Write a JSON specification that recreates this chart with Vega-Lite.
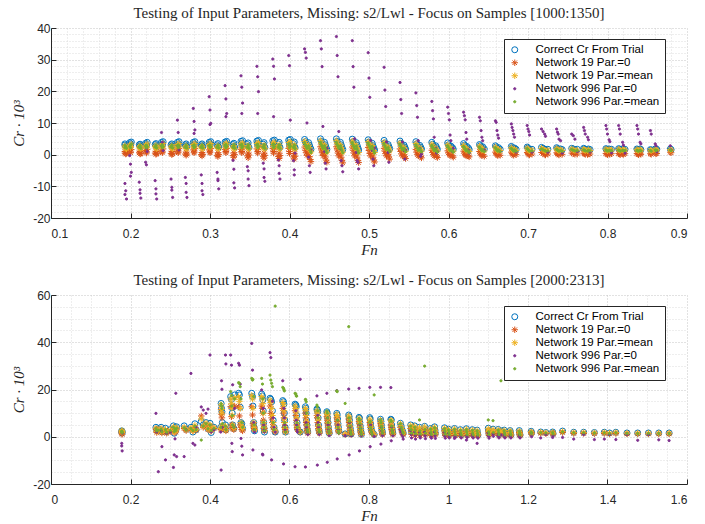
{
  "$schema": "https://vega.github.io/schema/vega-lite/v6.json",
  "background": "white",
  "padding": {"left": 11, "top": 6, "right": 5, "bottom": 5},
  "config": {
    "view": {"stroke": null},
    "axis": {"labelFont": "Liberation Sans", "labelFontSize": 12, "labelColor": "#262626", "domainColor": "#262626", "tickColor": "#262626", "titleFont": "Liberation Serif", "titleFontStyle": "italic", "titleFontWeight": "normal", "titleFontSize": 15, "titleColor": "#262626", "grid": true, "gridDash": [1, 2], "gridWidth": 1},
    "title": {"font": "Liberation Serif", "fontSize": 15, "fontWeight": "normal", "color": "#262626", "offset": 1},
    "legend": {"title": null, "orient": "none", "legendX": 453, "legendY": 11, "strokeColor": "#262626", "fillColor": "#ffffff", "padding": 5, "rowPadding": 0, "labelFont": "Liberation Sans", "labelFontSize": 11.5, "labelColor": "#000000", "labelOffset": 15, "symbolStrokeWidth": 1}
  },
  "spacing": 16,
  "resolve": {"scale": {"stroke": "independent", "fill": "independent", "shape": "independent", "size": "independent"}},
  "vconcat": [
    {
      "title": "Testing of Input Parameters, Missing: s2/Lwl - Focus on Samples [1000:1350]",
      "width": 636, "height": 190,
      "data": {"values": [
{"x":0.193,"a":3.0,"b":0.5,"c":2.4,"d":-9.1,"e":2.2},
{"x":0.194,"a":2.6,"b":0.2,"c":2.0,"d":-11.4,"e":2.6},
{"x":0.193,"a":3.4,"b":1.0,"c":2.8,"d":-12.6,"e":2.9},
{"x":0.195,"a":2.3,"b":0.4,"c":1.8,"d":-14.0,"e":2.0},
{"x":0.199,"a":3.8,"b":1.3,"c":3.0,"d":-0.3,"e":2.6},
{"x":0.200,"a":3.4,"b":0.8,"c":2.6,"d":-3.0,"e":3.0},
{"x":0.201,"a":4.0,"b":1.6,"c":3.3,"d":-5.6,"e":3.3},
{"x":0.200,"a":3.0,"b":0.6,"c":2.3,"d":-6.8,"e":2.2},
{"x":0.211,"a":3.1,"b":0.6,"c":2.4,"d":-8.7,"e":2.3},
{"x":0.212,"a":2.7,"b":0.2,"c":2.0,"d":-11.1,"e":2.6},
{"x":0.212,"a":3.3,"b":1.0,"c":2.8,"d":-12.2,"e":2.9},
{"x":0.213,"a":2.5,"b":0.3,"c":1.9,"d":-13.7,"e":2.0},
{"x":0.219,"a":3.6,"b":1.3,"c":3.0,"d":-2.4,"e":2.7},
{"x":0.220,"a":3.2,"b":0.8,"c":2.6,"d":-3.2,"e":3.0},
{"x":0.221,"a":3.9,"b":1.7,"c":3.4,"d":1.0,"e":2.5},
{"x":0.220,"a":2.9,"b":0.5,"c":2.3,"d":2.0,"e":2.2},
{"x":0.231,"a":3.2,"b":0.5,"c":2.5,"d":-8.2,"e":2.4},
{"x":0.232,"a":2.8,"b":0.1,"c":2.1,"d":-10.8,"e":2.7},
{"x":0.232,"a":3.5,"b":1.0,"c":2.9,"d":-12.4,"e":3.0},
{"x":0.233,"a":2.5,"b":0.3,"c":1.9,"d":-14.0,"e":2.1},
{"x":0.239,"a":3.9,"b":1.4,"c":3.1,"d":7.0,"e":2.8},
{"x":0.240,"a":3.4,"b":0.9,"c":2.7,"d":3.9,"e":3.1},
{"x":0.241,"a":4.1,"b":1.8,"c":3.5,"d":1.3,"e":2.5},
{"x":0.240,"a":3.0,"b":0.6,"c":2.3,"d":2.5,"e":2.2},
{"x":0.251,"a":3.1,"b":0.4,"c":2.5,"d":-7.7,"e":2.4},
{"x":0.252,"a":2.7,"b":0.0,"c":2.1,"d":-10.3,"e":2.7},
{"x":0.252,"a":3.4,"b":1.0,"c":2.8,"d":-11.2,"e":3.0},
{"x":0.253,"a":2.5,"b":0.3,"c":1.9,"d":-13.5,"e":2.1},
{"x":0.259,"a":3.9,"b":1.5,"c":3.2,"d":10.9,"e":2.8},
{"x":0.260,"a":3.4,"b":0.9,"c":2.7,"d":7.0,"e":3.1},
{"x":0.261,"a":4.1,"b":1.9,"c":3.5,"d":1.5,"e":2.5},
{"x":0.260,"a":3.0,"b":0.6,"c":2.3,"d":2.8,"e":2.2},
{"x":0.269,"a":3.1,"b":0.2,"c":2.4,"d":-7.2,"e":2.3},
{"x":0.270,"a":2.7,"b":-0.2,"c":2.0,"d":-9.1,"e":2.7},
{"x":0.270,"a":3.4,"b":0.8,"c":2.8,"d":-11.9,"e":3.0},
{"x":0.271,"a":2.5,"b":0.2,"c":1.9,"d":-13.5,"e":2.1},
{"x":0.279,"a":3.9,"b":1.5,"c":3.2,"d":14.6,"e":2.8},
{"x":0.280,"a":3.4,"b":0.9,"c":2.7,"d":10.5,"e":3.1},
{"x":0.281,"a":4.1,"b":1.9,"c":3.5,"d":7.8,"e":2.5},
{"x":0.280,"a":3.0,"b":0.6,"c":2.3,"d":6.7,"e":2.2},
{"x":0.289,"a":3.1,"b":0.0,"c":2.4,"d":-6.4,"e":2.3},
{"x":0.290,"a":2.7,"b":-0.4,"c":2.0,"d":-9.1,"e":2.7},
{"x":0.290,"a":3.4,"b":0.7,"c":2.8,"d":-11.4,"e":3.0},
{"x":0.291,"a":2.5,"b":0.1,"c":1.9,"d":-12.6,"e":2.1},
{"x":0.299,"a":3.9,"b":1.5,"c":3.2,"d":18.3,"e":2.8},
{"x":0.300,"a":3.4,"b":0.9,"c":2.7,"d":14.1,"e":3.1},
{"x":0.301,"a":4.1,"b":1.9,"c":3.5,"d":9.9,"e":2.5},
{"x":0.300,"a":3.0,"b":0.6,"c":2.3,"d":9.5,"e":2.2},
{"x":0.309,"a":3.1,"b":-0.2,"c":2.4,"d":-5.6,"e":2.3},
{"x":0.310,"a":2.6,"b":-0.6,"c":2.0,"d":-7.7,"e":2.7},
{"x":0.310,"a":3.5,"b":0.6,"c":2.8,"d":-8.2,"e":3.0},
{"x":0.311,"a":2.4,"b":0.0,"c":1.9,"d":-10.8,"e":2.1},
{"x":0.319,"a":4.0,"b":1.6,"c":3.3,"d":21.8,"e":2.9},
{"x":0.320,"a":3.5,"b":1.0,"c":2.8,"d":17.6,"e":3.2},
{"x":0.321,"a":4.2,"b":2.0,"c":3.6,"d":13.0,"e":2.6},
{"x":0.320,"a":3.0,"b":0.6,"c":2.3,"d":12.0,"e":2.2},
{"x":0.329,"a":3.2,"b":-0.3,"c":2.4,"d":-1.8,"e":2.3},
{"x":0.330,"a":2.6,"b":-0.8,"c":2.0,"d":-4.6,"e":2.7},
{"x":0.330,"a":3.6,"b":0.6,"c":2.9,"d":-8.9,"e":3.1},
{"x":0.331,"a":2.4,"b":0.0,"c":1.8,"d":-10.5,"e":2.0},
{"x":0.339,"a":4.2,"b":1.7,"c":3.4,"d":24.9,"e":3.0},
{"x":0.340,"a":3.6,"b":1.0,"c":2.8,"d":21.3,"e":3.3},
{"x":0.341,"a":4.4,"b":2.1,"c":3.7,"d":16.3,"e":2.6},
{"x":0.340,"a":3.0,"b":0.6,"c":2.3,"d":13.0,"e":2.2},
{"x":0.347,"a":3.2,"b":-0.4,"c":2.4,"d":-3.8,"e":2.3},
{"x":0.348,"a":2.6,"b":-1.0,"c":2.0,"d":-5.1,"e":2.7},
{"x":0.348,"a":3.7,"b":0.5,"c":2.9,"d":-7.7,"e":3.1},
{"x":0.349,"a":2.3,"b":-0.1,"c":1.8,"d":-9.8,"e":2.0},
{"x":0.359,"a":4.3,"b":1.8,"c":3.5,"d":27.9,"e":3.0},
{"x":0.360,"a":3.6,"b":1.0,"c":2.8,"d":24.6,"e":3.3},
{"x":0.361,"a":4.5,"b":2.2,"c":3.8,"d":19.9,"e":2.6},
{"x":0.360,"a":3.0,"b":0.5,"c":2.3,"d":13.0,"e":2.2},
{"x":0.367,"a":3.3,"b":-0.5,"c":2.4,"d":-2.7,"e":2.3},
{"x":0.368,"a":2.6,"b":-1.1,"c":2.0,"d":-4.5,"e":2.7},
{"x":0.368,"a":3.8,"b":0.5,"c":3.0,"d":-7.2,"e":3.1},
{"x":0.369,"a":2.3,"b":-0.2,"c":1.8,"d":-8.4,"e":2.0},
{"x":0.379,"a":4.4,"b":1.9,"c":3.6,"d":30.2,"e":3.1},
{"x":0.380,"a":3.7,"b":1.0,"c":2.9,"d":27.9,"e":3.4},
{"x":0.381,"a":4.6,"b":2.3,"c":3.9,"d":23.9,"e":2.6},
{"x":0.380,"a":3.0,"b":0.5,"c":2.3,"d":12.0,"e":2.2},
{"x":0.386,"a":3.4,"b":-0.6,"c":2.5,"d":-1.7,"e":2.3},
{"x":0.387,"a":2.6,"b":-1.2,"c":2.0,"d":-3.5,"e":2.7},
{"x":0.387,"a":3.9,"b":0.5,"c":3.1,"d":-5.9,"e":3.1},
{"x":0.388,"a":2.3,"b":-0.3,"c":1.8,"d":-7.7,"e":2.0},
{"x":0.399,"a":4.6,"b":2.0,"c":3.8,"d":31.3,"e":3.2},
{"x":0.400,"a":3.8,"b":1.0,"c":3.0,"d":28.1,"e":3.5},
{"x":0.401,"a":4.8,"b":2.4,"c":4.1,"d":10.9,"e":2.7},
{"x":0.400,"a":3.0,"b":0.4,"c":2.3,"d":3.0,"e":2.2},
{"x":0.405,"a":3.5,"b":-0.7,"c":2.5,"d":-1.9,"e":2.3},
{"x":0.406,"a":2.6,"b":-1.4,"c":1.9,"d":-4.8,"e":2.6},
{"x":0.406,"a":4.0,"b":0.4,"c":3.1,"d":-6.4,"e":3.0},
{"x":0.407,"a":2.2,"b":-0.5,"c":1.7,"d":0.5,"e":1.9},
{"x":0.419,"a":4.8,"b":2.4,"c":4.2,"d":33.4,"e":3.8},
{"x":0.420,"a":4.1,"b":1.4,"c":3.5,"d":32.3,"e":3.1},
{"x":0.421,"a":3.4,"b":0.6,"c":2.8,"d":30.5,"e":2.5},
{"x":0.422,"a":2.8,"b":-0.2,"c":2.2,"d":10.0,"e":2.0},
{"x":0.424,"a":3.8,"b":0.4,"c":3.0,"d":-0.8,"e":2.8},
{"x":0.425,"a":3.0,"b":-0.6,"c":2.2,"d":-3.5,"e":2.0},
{"x":0.426,"a":2.3,"b":-1.5,"c":1.5,"d":-5.6,"e":1.3},
{"x":0.427,"a":1.7,"b":-2.2,"c":0.9,"d":1.5,"e":0.7},
{"x":0.439,"a":5.0,"b":2.5,"c":4.4,"d":36.0,"e":3.9},
{"x":0.440,"a":4.2,"b":1.5,"c":3.6,"d":33.4,"e":3.2},
{"x":0.441,"a":3.5,"b":0.6,"c":2.9,"d":27.8,"e":2.6},
{"x":0.442,"a":2.8,"b":-0.3,"c":2.2,"d":8.9,"e":2.0},
{"x":0.444,"a":3.9,"b":0.3,"c":3.1,"d":1.0,"e":2.8},
{"x":0.445,"a":3.1,"b":-0.7,"c":2.3,"d":-2.7,"e":2.0},
{"x":0.446,"a":2.3,"b":-1.7,"c":1.5,"d":-4.5,"e":1.3},
{"x":0.447,"a":1.6,"b":-2.4,"c":0.8,"d":2.0,"e":0.6},
{"x":0.459,"a":5.0,"b":2.5,"c":4.4,"d":37.3,"e":3.9},
{"x":0.460,"a":4.2,"b":1.5,"c":3.6,"d":31.3,"e":3.2},
{"x":0.461,"a":3.5,"b":0.5,"c":2.9,"d":24.6,"e":2.6},
{"x":0.462,"a":2.8,"b":-0.4,"c":2.2,"d":7.3,"e":2.0},
{"x":0.464,"a":3.9,"b":0.2,"c":3.1,"d":1.8,"e":2.8},
{"x":0.465,"a":3.1,"b":-0.8,"c":2.3,"d":-1.9,"e":2.0},
{"x":0.466,"a":2.3,"b":-1.8,"c":1.5,"d":-3.5,"e":1.3},
{"x":0.467,"a":1.6,"b":-2.6,"c":0.8,"d":-5.4,"e":0.6},
{"x":0.479,"a":4.9,"b":2.4,"c":4.3,"d":36.0,"e":3.8},
{"x":0.480,"a":4.1,"b":1.4,"c":3.5,"d":27.8,"e":3.1},
{"x":0.481,"a":3.4,"b":0.5,"c":2.8,"d":21.3,"e":2.5},
{"x":0.482,"a":2.7,"b":-0.4,"c":2.1,"d":5.0,"e":1.9},
{"x":0.484,"a":3.8,"b":0.2,"c":3.0,"d":0.7,"e":2.7},
{"x":0.485,"a":3.0,"b":-0.8,"c":2.2,"d":-1.9,"e":1.9},
{"x":0.486,"a":2.2,"b":-1.8,"c":1.4,"d":-2.4,"e":1.2},
{"x":0.487,"a":1.5,"b":-2.5,"c":0.7,"d":-4.5,"e":0.5},
{"x":0.499,"a":4.7,"b":2.3,"c":4.1,"d":32.2,"e":3.7},
{"x":0.500,"a":4.0,"b":1.3,"c":3.4,"d":24.2,"e":3.0},
{"x":0.501,"a":3.3,"b":0.4,"c":2.7,"d":18.1,"e":2.4},
{"x":0.502,"a":2.6,"b":-0.4,"c":2.0,"d":4.5,"e":1.8},
{"x":0.504,"a":3.6,"b":0.2,"c":2.9,"d":1.3,"e":2.6},
{"x":0.505,"a":2.8,"b":-0.8,"c":2.1,"d":-1.4,"e":1.8},
{"x":0.506,"a":2.1,"b":-1.7,"c":1.3,"d":-3.5,"e":1.1},
{"x":0.507,"a":1.5,"b":-2.3,"c":0.7,"d":2.0,"e":0.5},
{"x":0.519,"a":4.5,"b":2.0,"c":3.9,"d":27.6,"e":3.5},
{"x":0.520,"a":3.7,"b":1.1,"c":3.1,"d":20.4,"e":2.8},
{"x":0.521,"a":3.0,"b":0.3,"c":2.4,"d":15.2,"e":2.2},
{"x":0.522,"a":2.4,"b":-0.4,"c":1.8,"d":4.0,"e":1.6},
{"x":0.524,"a":3.2,"b":0.1,"c":2.5,"d":0.7,"e":2.2},
{"x":0.525,"a":2.5,"b":-0.7,"c":1.8,"d":-2.4,"e":1.5},
{"x":0.526,"a":1.9,"b":-1.4,"c":1.2,"d":1.0,"e":1.0},
{"x":0.539,"a":4.3,"b":1.8,"c":3.7,"d":22.8,"e":3.3},
{"x":0.540,"a":3.6,"b":1.0,"c":3.0,"d":17.4,"e":2.7},
{"x":0.541,"a":2.9,"b":0.2,"c":2.3,"d":13.0,"e":2.1},
{"x":0.542,"a":2.3,"b":-0.4,"c":1.7,"d":4.0,"e":1.5},
{"x":0.544,"a":3.0,"b":0.0,"c":2.3,"d":1.3,"e":2.0},
{"x":0.545,"a":2.4,"b":-0.7,"c":1.7,"d":-1.4,"e":1.4},
{"x":0.546,"a":1.8,"b":-1.2,"c":1.1,"d":1.5,"e":0.9},
{"x":0.559,"a":4.1,"b":1.6,"c":3.5,"d":19.5,"e":3.1},
{"x":0.560,"a":3.4,"b":0.8,"c":2.8,"d":15.5,"e":2.5},
{"x":0.561,"a":2.8,"b":0.1,"c":2.2,"d":11.8,"e":2.0},
{"x":0.562,"a":2.2,"b":-0.4,"c":1.6,"d":4.4,"e":1.4},
{"x":0.564,"a":2.9,"b":0.0,"c":2.2,"d":2.0,"e":1.9},
{"x":0.565,"a":2.3,"b":-0.6,"c":1.6,"d":-0.5,"e":1.3},
{"x":0.566,"a":1.8,"b":-1.0,"c":1.1,"d":0.2,"e":0.9},
{"x":0.579,"a":3.9,"b":1.4,"c":3.3,"d":16.8,"e":2.9},
{"x":0.580,"a":3.3,"b":0.7,"c":2.7,"d":13.9,"e":2.4},
{"x":0.581,"a":2.7,"b":0.1,"c":2.1,"d":11.3,"e":1.9},
{"x":0.582,"a":2.1,"b":-0.4,"c":1.5,"d":5.5,"e":1.3},
{"x":0.584,"a":2.8,"b":0.0,"c":2.1,"d":2.0,"e":1.8},
{"x":0.585,"a":2.2,"b":-0.5,"c":1.5,"d":0.5,"e":1.2},
{"x":0.586,"a":1.7,"b":-0.9,"c":1.1,"d":1.0,"e":0.8},
{"x":0.599,"a":3.7,"b":1.2,"c":3.1,"d":15.0,"e":2.8},
{"x":0.600,"a":3.1,"b":0.6,"c":2.5,"d":13.0,"e":2.3},
{"x":0.601,"a":2.6,"b":0.1,"c":2.0,"d":11.0,"e":1.8},
{"x":0.602,"a":2.1,"b":-0.3,"c":1.5,"d":6.2,"e":1.3},
{"x":0.603,"a":2.7,"b":0.0,"c":2.0,"d":4.4,"e":1.7},
{"x":0.605,"a":2.2,"b":-0.4,"c":1.5,"d":1.0,"e":1.2},
{"x":0.606,"a":1.7,"b":-0.8,"c":1.1,"d":2.0,"e":0.8},
{"x":0.619,"a":3.5,"b":1.1,"c":2.9,"d":13.4,"e":2.6},
{"x":0.620,"a":3.0,"b":0.5,"c":2.4,"d":12.3,"e":2.2},
{"x":0.621,"a":2.5,"b":0.0,"c":1.9,"d":11.0,"e":1.7},
{"x":0.622,"a":2.0,"b":-0.3,"c":1.4,"d":7.0,"e":1.2},
{"x":0.623,"a":2.6,"b":0.0,"c":1.9,"d":4.9,"e":1.6},
{"x":0.625,"a":2.1,"b":-0.4,"c":1.4,"d":1.5,"e":1.1},
{"x":0.626,"a":1.6,"b":-0.7,"c":1.0,"d":0.5,"e":0.7},
{"x":0.639,"a":3.2,"b":1.0,"c":2.7,"d":11.8,"e":2.4},
{"x":0.640,"a":2.8,"b":0.5,"c":2.2,"d":10.7,"e":2.0},
{"x":0.641,"a":2.4,"b":0.0,"c":1.8,"d":7.6,"e":1.6},
{"x":0.642,"a":1.9,"b":-0.3,"c":1.4,"d":5.5,"e":1.2},
{"x":0.643,"a":2.5,"b":0.1,"c":1.9,"d":4.4,"e":1.6},
{"x":0.645,"a":1.8,"b":-0.5,"c":1.2,"d":1.5,"e":1.0},
{"x":0.659,"a":2.8,"b":0.8,"c":2.4,"d":10.7,"e":2.2},
{"x":0.660,"a":2.4,"b":0.4,"c":2.0,"d":10.2,"e":1.8},
{"x":0.661,"a":2.0,"b":0.0,"c":1.6,"d":7.6,"e":1.4},
{"x":0.662,"a":1.6,"b":-0.3,"c":1.2,"d":6.2,"e":1.1},
{"x":0.663,"a":2.2,"b":0.2,"c":1.7,"d":5.2,"e":1.5},
{"x":0.665,"a":1.7,"b":-0.2,"c":1.3,"d":1.0,"e":1.0},
{"x":0.679,"a":2.6,"b":0.8,"c":2.2,"d":9.7,"e":2.0},
{"x":0.680,"a":2.2,"b":0.4,"c":1.8,"d":8.6,"e":1.7},
{"x":0.681,"a":1.9,"b":0.1,"c":1.5,"d":7.6,"e":1.4},
{"x":0.682,"a":1.6,"b":-0.2,"c":1.2,"d":6.5,"e":1.1},
{"x":0.683,"a":2.1,"b":0.3,"c":1.7,"d":5.5,"e":1.5},
{"x":0.685,"a":1.7,"b":0.0,"c":1.3,"d":0.8,"e":1.1},
{"x":0.699,"a":2.4,"b":0.7,"c":2.1,"d":9.2,"e":1.9},
{"x":0.700,"a":2.1,"b":0.4,"c":1.7,"d":8.1,"e":1.6},
{"x":0.701,"a":1.8,"b":0.1,"c":1.4,"d":7.3,"e":1.3},
{"x":0.702,"a":1.5,"b":-0.1,"c":1.2,"d":6.2,"e":1.1},
{"x":0.705,"a":1.7,"b":0.2,"c":1.4,"d":0.8,"e":1.2},
{"x":0.717,"a":2.3,"b":0.7,"c":2.0,"d":8.1,"e":1.8},
{"x":0.719,"a":2.0,"b":0.4,"c":1.7,"d":7.3,"e":1.5},
{"x":0.721,"a":1.7,"b":0.1,"c":1.4,"d":6.5,"e":1.3},
{"x":0.722,"a":1.5,"b":-0.1,"c":1.2,"d":5.8,"e":1.1},
{"x":0.725,"a":1.7,"b":0.2,"c":1.4,"d":0.8,"e":1.2},
{"x":0.736,"a":2.2,"b":0.6,"c":1.9,"d":8.1,"e":1.7},
{"x":0.737,"a":1.9,"b":0.3,"c":1.6,"d":7.1,"e":1.5},
{"x":0.738,"a":1.7,"b":0.1,"c":1.4,"d":6.5,"e":1.3},
{"x":0.739,"a":1.5,"b":-0.1,"c":1.2,"d":4.9,"e":1.1},
{"x":0.741,"a":1.8,"b":0.3,"c":1.5,"d":4.4,"e":1.3},
{"x":0.743,"a":1.6,"b":0.1,"c":1.3,"d":0.5,"e":1.1},
{"x":0.755,"a":2.0,"b":0.5,"c":1.8,"d":6.5,"e":1.6},
{"x":0.757,"a":1.8,"b":0.3,"c":1.5,"d":6.0,"e":1.4},
{"x":0.759,"a":1.6,"b":0.1,"c":1.3,"d":4.9,"e":1.2},
{"x":0.762,"a":1.7,"b":0.2,"c":1.4,"d":1.0,"e":1.3},
{"x":0.770,"a":2.0,"b":0.5,"c":1.7,"d":8.6,"e":1.5},
{"x":0.771,"a":1.8,"b":0.3,"c":1.5,"d":7.6,"e":1.4},
{"x":0.772,"a":1.6,"b":0.1,"c":1.3,"d":6.5,"e":1.2},
{"x":0.775,"a":1.5,"b":0.0,"c":1.2,"d":5.5,"e":1.1},
{"x":0.776,"a":1.8,"b":0.3,"c":1.5,"d":4.7,"e":1.4},
{"x":0.778,"a":1.6,"b":0.2,"c":1.3,"d":0.8,"e":1.2},
{"x":0.798,"a":1.9,"b":0.4,"c":1.7,"d":9.2,"e":1.5},
{"x":0.799,"a":1.7,"b":0.2,"c":1.5,"d":8.1,"e":1.3},
{"x":0.800,"a":1.5,"b":0.0,"c":1.3,"d":6.5,"e":1.1},
{"x":0.802,"a":1.8,"b":0.3,"c":1.6,"d":4.7,"e":1.4},
{"x":0.803,"a":1.6,"b":0.1,"c":1.4,"d":4.1,"e":1.2},
{"x":0.805,"a":1.7,"b":0.3,"c":1.5,"d":0.6,"e":1.3},
{"x":0.814,"a":1.9,"b":0.4,"c":1.7,"d":9.2,"e":1.5},
{"x":0.815,"a":1.7,"b":0.2,"c":1.5,"d":8.1,"e":1.3},
{"x":0.816,"a":1.5,"b":0.0,"c":1.3,"d":6.5,"e":1.1},
{"x":0.819,"a":1.8,"b":0.3,"c":1.6,"d":3.9,"e":1.4},
{"x":0.820,"a":1.6,"b":0.1,"c":1.4,"d":3.0,"e":1.2},
{"x":0.822,"a":1.7,"b":0.3,"c":1.5,"d":0.5,"e":1.3},
{"x":0.837,"a":1.8,"b":0.4,"c":1.6,"d":9.2,"e":1.4},
{"x":0.838,"a":1.6,"b":0.2,"c":1.4,"d":8.1,"e":1.2},
{"x":0.839,"a":1.5,"b":0.0,"c":1.3,"d":6.5,"e":1.1},
{"x":0.841,"a":1.8,"b":0.3,"c":1.6,"d":3.9,"e":1.4},
{"x":0.842,"a":1.6,"b":0.1,"c":1.4,"d":3.4,"e":1.2},
{"x":0.854,"a":1.6,"b":0.3,"c":1.4,"d":7.6,"e":1.3},
{"x":0.855,"a":1.4,"b":0.1,"c":1.2,"d":6.5,"e":1.1},
{"x":0.860,"a":1.8,"b":0.5,"c":1.6,"d":3.4,"e":1.5},
{"x":0.861,"a":1.6,"b":0.3,"c":1.4,"d":2.8,"e":1.3},
{"x":0.862,"a":1.7,"b":0.4,"c":1.5,"d":0.9,"e":1.4},
{"x":0.879,"a":1.8,"b":0.8,"c":1.6,"d":2.8,"e":1.5},
{"x":0.880,"a":1.6,"b":0.6,"c":1.4,"d":1.5,"e":1.3}
      ]},
      "transform": [{"fold": ["a", "b", "c", "d", "e"], "as": ["s", "Cr"]}],
      "mark": {"type": "point", "opacity": 1, "strokeWidth": 1},
      "encoding": {
        "x": {"field": "x", "type": "quantitative", "scale": {"domain": [0.1, 0.9], "nice": false, "zero": false},
          "axis": {"title": "Fn", "titlePadding": 3, "labelPadding": 15, "tickSize": -5,
            "values": [0.1,0.12,0.14,0.16,0.18,0.2,0.22,0.24,0.26,0.28,0.3,0.32,0.34,0.36,0.38,0.4,0.42,0.44,0.46,0.48,0.5,0.52,0.54,0.56,0.58,0.6,0.62,0.64,0.66,0.68,0.7,0.72,0.74,0.76,0.78,0.8,0.82,0.84,0.86,0.88,0.9],
            "labelExpr": "abs(datum.value*10-round(datum.value*10))<1e-6 ? datum.value+'' : ''",
            "tickOpacity": {"condition": {"test": "abs(datum.value*10-round(datum.value*10))<1e-6", "value": 1}, "value": 0},
            "gridColor": {"condition": {"test": "abs(datum.value*10-round(datum.value*10))<1e-6", "value": "#c4c4c4"}, "value": "#dcdcdc"}}},
        "y": {"field": "Cr", "type": "quantitative", "scale": {"domain": [-20, 40], "nice": false, "zero": false},
          "axis": {"title": "Cr · 10³", "titlePadding": 6, "labelPadding": 6, "tickSize": -5,
            "values": [-20,-18,-16,-14,-12,-10,-8,-6,-4,-2,0,2,4,6,8,10,12,14,16,18,20,22,24,26,28,30,32,34,36,38,40],
            "labelExpr": "datum.value%10===0 ? datum.value+'' : ''",
            "tickOpacity": {"condition": {"test": "datum.value%10===0", "value": 1}, "value": 0},
            "gridColor": {"condition": {"test": "datum.value%10===0", "value": "#c4c4c4"}, "value": "#dcdcdc"}}},
        "stroke": {"field": "s", "type": "nominal", "scale": {"domain": ["a","b","c","d","e"], "range": ["#0072BD","#D95319","#EDB120","#7E2F8E","#77AC30"]},
          "legend": {"labelExpr": "datum.value=='a'?'Correct Cr From Trial':datum.value=='b'?'Network 19 Par.=0':datum.value=='c'?'Network 19 Par.=mean':datum.value=='d'?'Network 996 Par.=0':'Network 996 Par.=mean'"}},
        "fill": {"field": "s", "type": "nominal", "scale": {"domain": ["a","b","c","d","e"], "range": ["transparent","transparent","transparent","#7E2F8E","#77AC30"]},
          "legend": {"labelExpr": "datum.value=='a'?'Correct Cr From Trial':datum.value=='b'?'Network 19 Par.=0':datum.value=='c'?'Network 19 Par.=mean':datum.value=='d'?'Network 996 Par.=0':'Network 996 Par.=mean'"}},
        "shape": {"field": "s", "type": "nominal", "scale": {"domain": ["a","b","c","d","e"], "range": ["circle","M0,-1L0,1M-1,0L1,0M-0.7,-0.7L0.7,0.7M-0.7,0.7L0.7,-0.7","M0,-1L0,1M-1,0L1,0M-0.7,-0.7L0.7,0.7M-0.7,0.7L0.7,-0.7","circle","circle"]},
          "legend": {"labelExpr": "datum.value=='a'?'Correct Cr From Trial':datum.value=='b'?'Network 19 Par.=0':datum.value=='c'?'Network 19 Par.=mean':datum.value=='d'?'Network 996 Par.=0':'Network 996 Par.=mean'"}},
        "size": {"field": "s", "type": "nominal", "scale": {"type": "ordinal", "domain": ["a","b","c","d","e"], "range": [36, 42, 42, 5, 5]},
          "legend": {"labelExpr": "datum.value=='a'?'Correct Cr From Trial':datum.value=='b'?'Network 19 Par.=0':datum.value=='c'?'Network 19 Par.=mean':datum.value=='d'?'Network 996 Par.=0':'Network 996 Par.=mean'"}},
        "order": {"field": "s"}
      }
    },
    {
      "title": "Testing of Input Parameters, Missing: s2/Lwl - Focus on Samples [2000:2313]",
      "width": 636, "height": 189,
      "data": {"values": [
{"x":0.178,"a":2.5,"b":2.0,"c":2.6,"d":-2.8,"e":2.4},
{"x":0.178,"a":2.0,"b":1.5,"c":2.1,"d":-3.9,"e":2.0},
{"x":0.179,"a":1.6,"b":1.0,"c":1.8,"d":-6.0,"e":1.7},
{"x":0.179,"a":2.2,"b":1.8,"c":2.3,"d":1.5,"e":2.2},
{"x":0.264,"a":4.0,"b":3.2,"c":3.6,"d":9.9,"e":3.4},
{"x":0.266,"a":2.6,"b":1.8,"c":2.2,"d":2.0,"e":2.5},
{"x":0.270,"a":3.3,"b":2.5,"c":2.9,"d":-14.8,"e":2.8},
{"x":0.277,"a":4.0,"b":3.0,"c":3.5,"d":2.5,"e":3.2},
{"x":0.279,"a":2.2,"b":1.6,"c":2.0,"d":-4.2,"e":2.1},
{"x":0.288,"a":3.6,"b":2.6,"c":3.1,"d":-9.8,"e":3.0},
{"x":0.291,"a":2.0,"b":1.5,"c":1.8,"d":1.5,"e":1.9},
{"x":0.300,"a":3.0,"b":2.2,"c":2.7,"d":2.0,"e":2.6},
{"x":0.308,"a":4.6,"b":3.5,"c":4.2,"d":-13.0,"e":4.0},
{"x":0.310,"a":1.5,"b":1.8,"c":2.0,"d":-7.7,"e":2.2},
{"x":0.312,"a":3.8,"b":3.0,"c":3.4,"d":-0.9,"e":3.2},
{"x":0.314,"a":2.8,"b":2.0,"c":2.5,"d":18.4,"e":2.6},
{"x":0.316,"a":4.2,"b":3.2,"c":3.8,"d":-8.4,"e":3.6},
{"x":0.335,"a":4.6,"b":3.5,"c":4.0,"d":-8.4,"e":3.8},
{"x":0.340,"a":3.2,"b":2.6,"c":3.0,"d":3.0,"e":2.9},
{"x":0.352,"a":4.0,"b":3.2,"c":3.6,"d":26.8,"e":3.5},
{"x":0.357,"a":2.0,"b":2.5,"c":2.4,"d":-2.8,"e":2.6},
{"x":0.362,"a":5.5,"b":4.0,"c":4.8,"d":-3.5,"e":4.5},
{"x":0.365,"a":3.0,"b":2.8,"c":3.2,"d":4.0,"e":3.0},
{"x":0.378,"a":6.5,"b":8.8,"c":7.5,"d":12.6,"e":-1.4},
{"x":0.383,"a":5.0,"b":4.0,"c":4.5,"d":11.3,"e":4.5},
{"x":0.390,"a":6.0,"b":5.0,"c":5.8,"d":9.9,"e":5.5},
{"x":0.395,"a":3.5,"b":3.0,"c":3.3,"d":11.7,"e":3.4},
{"x":0.400,"a":5.7,"b":4.5,"c":5.0,"d":34.6,"e":5.0},
{"x":0.403,"a":1.8,"b":2.5,"c":2.4,"d":2.0,"e":2.6},
{"x":0.410,"a":4.0,"b":3.5,"c":3.8,"d":3.0,"e":3.6},
{"x":0.428,"a":14.1,"b":11.5,"c":13.5,"d":-14.1,"e":14.0},
{"x":0.429,"a":12.0,"b":9.5,"c":11.5,"d":23.7,"e":13.0},
{"x":0.430,"a":10.6,"b":8.0,"c":10.0,"d":20.1,"e":12.0},
{"x":0.431,"a":6.0,"b":4.0,"c":5.0,"d":4.0,"e":5.5},
{"x":0.427,"a":4.0,"b":3.0,"c":3.5,"d":2.0,"e":4.0},
{"x":0.439,"a":5.0,"b":3.5,"c":4.5,"d":34.6,"e":4.5},
{"x":0.440,"a":3.0,"b":2.5,"c":2.8,"d":30.8,"e":3.0},
{"x":0.452,"a":17.0,"b":12.7,"c":16.0,"d":34.6,"e":19.1},
{"x":0.454,"a":15.8,"b":8.5,"c":14.0,"d":30.3,"e":17.5},
{"x":0.455,"a":12.5,"b":5.0,"c":12.0,"d":-2.8,"e":13.0},
{"x":0.456,"a":10.0,"b":4.0,"c":9.0,"d":-6.3,"e":9.0},
{"x":0.457,"a":5.0,"b":3.5,"c":5.0,"d":22.0,"e":5.0},
{"x":0.460,"a":3.5,"b":3.0,"c":3.5,"d":4.0,"e":4.0},
{"x":0.462,"a":17.7,"b":13.0,"c":16.5,"d":12.0,"e":16.0},
{"x":0.472,"a":18.4,"b":12.7,"c":17.0,"d":31.1,"e":22.9},
{"x":0.474,"a":17.7,"b":8.8,"c":15.0,"d":30.3,"e":22.6},
{"x":0.476,"a":12.5,"b":5.0,"c":12.0,"d":22.3,"e":21.2},
{"x":0.478,"a":6.0,"b":4.0,"c":6.0,"d":-0.7,"e":16.0},
{"x":0.480,"a":5.5,"b":3.0,"c":4.5,"d":-4.0,"e":6.0},
{"x":0.482,"a":3.5,"b":2.5,"c":3.5,"d":-7.7,"e":4.0},
{"x":0.505,"a":18.4,"b":12.7,"c":17.5,"d":39.5,"e":24.7},
{"x":0.507,"a":17.0,"b":9.2,"c":16.0,"d":28.2,"e":24.0},
{"x":0.508,"a":13.0,"b":5.5,"c":12.0,"d":-5.6,"e":24.3},
{"x":0.510,"a":6.0,"b":4.5,"c":6.0,"d":6.0,"e":17.0},
{"x":0.511,"a":4.0,"b":3.5,"c":4.0,"d":3.0,"e":5.0},
{"x":0.512,"a":2.5,"b":3.0,"c":3.0,"d":2.0,"e":3.0},
{"x":0.530,"a":18.1,"b":13.0,"c":17.0,"d":19.8,"e":24.7},
{"x":0.532,"a":17.3,"b":12.0,"c":16.0,"d":-7.4,"e":22.3},
{"x":0.533,"a":15.6,"b":10.0,"c":14.0,"d":-7.7,"e":16.0},
{"x":0.534,"a":11.0,"b":7.0,"c":10.0,"d":12.0,"e":10.0},
{"x":0.535,"a":6.0,"b":5.0,"c":6.0,"d":5.0,"e":6.0},
{"x":0.536,"a":3.5,"b":3.5,"c":4.0,"d":3.0,"e":4.0},
{"x":0.537,"a":2.0,"b":2.5,"c":2.5,"d":2.0,"e":2.5},
{"x":0.551,"a":16.3,"b":13.0,"c":15.5,"d":35.6,"e":26.1},
{"x":0.553,"a":15.8,"b":9.9,"c":14.5,"d":33.5,"e":24.0},
{"x":0.555,"a":14.8,"b":8.0,"c":12.0,"d":-9.8,"e":22.6},
{"x":0.557,"a":11.0,"b":6.0,"c":9.0,"d":15.0,"e":21.2},
{"x":0.559,"a":7.0,"b":4.0,"c":6.0,"d":8.0,"e":6.0},
{"x":0.561,"a":4.0,"b":3.0,"c":4.0,"d":4.0,"e":3.0},
{"x":0.564,"a":2.0,"b":2.0,"c":2.5,"d":2.0,"e":55.3},
{"x":0.583,"a":15.3,"b":12.0,"c":14.5,"d":23.7,"e":20.9},
{"x":0.585,"a":14.8,"b":10.0,"c":13.5,"d":-11.5,"e":20.5},
{"x":0.586,"a":13.8,"b":8.0,"c":11.0,"d":12.0,"e":20.0},
{"x":0.587,"a":10.0,"b":6.0,"c":8.0,"d":8.0,"e":19.4},
{"x":0.588,"a":7.0,"b":4.0,"c":6.0,"d":5.0,"e":6.0},
{"x":0.589,"a":4.0,"b":3.0,"c":3.5,"d":3.0,"e":4.0},
{"x":0.590,"a":2.0,"b":2.0,"c":2.0,"d":2.0,"e":2.0},
{"x":0.614,"a":13.8,"b":11.0,"c":13.0,"d":-12.7,"e":18.4},
{"x":0.616,"a":13.4,"b":9.0,"c":12.0,"d":11.0,"e":18.1},
{"x":0.617,"a":12.7,"b":7.0,"c":10.5,"d":7.0,"e":17.3},
{"x":0.618,"a":9.0,"b":5.0,"c":8.0,"d":5.0,"e":17.2},
{"x":0.619,"a":6.0,"b":4.0,"c":5.0,"d":3.0,"e":6.0},
{"x":0.620,"a":3.5,"b":3.0,"c":3.5,"d":2.0,"e":4.0},
{"x":0.627,"a":2.0,"b":2.0,"c":2.0,"d":24.3,"e":2.0},
{"x":0.640,"a":12.7,"b":10.0,"c":12.0,"d":-12.8,"e":15.8},
{"x":0.641,"a":12.0,"b":8.0,"c":11.0,"d":10.0,"e":15.6},
{"x":0.642,"a":10.0,"b":6.0,"c":9.0,"d":6.0,"e":14.8},
{"x":0.643,"a":7.0,"b":5.0,"c":6.5,"d":4.0,"e":10.0},
{"x":0.644,"a":5.0,"b":3.5,"c":4.5,"d":3.0,"e":5.0},
{"x":0.645,"a":3.0,"b":2.5,"c":3.0,"d":2.0,"e":3.0},
{"x":0.646,"a":2.0,"b":1.5,"c":2.0,"d":1.0,"e":2.0},
{"x":0.669,"a":11.7,"b":9.0,"c":11.0,"d":17.3,"e":13.4},
{"x":0.670,"a":11.3,"b":8.0,"c":10.5,"d":-12.0,"e":12.7},
{"x":0.671,"a":10.6,"b":6.0,"c":9.0,"d":9.0,"e":11.0},
{"x":0.672,"a":8.0,"b":4.5,"c":7.0,"d":6.0,"e":8.0},
{"x":0.673,"a":5.0,"b":3.5,"c":4.5,"d":4.0,"e":5.0},
{"x":0.674,"a":3.0,"b":2.5,"c":3.0,"d":2.0,"e":3.0},
{"x":0.675,"a":2.0,"b":1.5,"c":2.0,"d":1.0,"e":2.0},
{"x":0.694,"a":10.6,"b":8.5,"c":10.0,"d":18.4,"e":11.0},
{"x":0.695,"a":9.9,"b":7.0,"c":9.5,"d":-10.8,"e":10.0},
{"x":0.696,"a":8.0,"b":5.5,"c":8.0,"d":8.0,"e":8.0},
{"x":0.697,"a":6.0,"b":4.0,"c":6.0,"d":5.0,"e":6.0},
{"x":0.698,"a":4.0,"b":3.0,"c":4.0,"d":3.0,"e":4.0},
{"x":0.699,"a":2.5,"b":2.0,"c":2.5,"d":2.0,"e":2.5},
{"x":0.700,"a":1.5,"b":1.5,"c":1.5,"d":0.5,"e":1.5},
{"x":0.719,"a":9.9,"b":8.0,"c":9.5,"d":19.5,"e":19.4},
{"x":0.720,"a":9.2,"b":6.5,"c":8.5,"d":-9.4,"e":19.1},
{"x":0.721,"a":7.5,"b":5.0,"c":7.0,"d":7.0,"e":7.0},
{"x":0.722,"a":5.5,"b":3.5,"c":5.0,"d":5.0,"e":4.0},
{"x":0.723,"a":4.0,"b":2.5,"c":3.5,"d":3.0,"e":2.5},
{"x":0.724,"a":2.5,"b":2.0,"c":2.5,"d":1.5,"e":1.5},
{"x":0.740,"a":1.2,"b":1.0,"c":1.2,"d":0.5,"e":14.1},
{"x":0.749,"a":9.2,"b":7.5,"c":8.8,"d":20.2,"e":46.6},
{"x":0.750,"a":8.5,"b":6.0,"c":8.0,"d":-7.7,"e":8.0},
{"x":0.751,"a":7.0,"b":4.5,"c":6.5,"d":6.0,"e":6.5},
{"x":0.752,"a":5.0,"b":3.0,"c":4.5,"d":4.0,"e":4.5},
{"x":0.753,"a":3.5,"b":2.5,"c":3.0,"d":2.5,"e":3.0},
{"x":0.754,"a":2.2,"b":1.5,"c":2.0,"d":1.5,"e":2.0},
{"x":0.755,"a":1.2,"b":1.0,"c":1.2,"d":0.5,"e":1.0},
{"x":0.775,"a":8.2,"b":6.5,"c":7.8,"d":20.5,"e":7.8},
{"x":0.776,"a":7.8,"b":5.5,"c":7.0,"d":-6.0,"e":7.0},
{"x":0.777,"a":6.0,"b":4.0,"c":5.5,"d":5.0,"e":5.5},
{"x":0.778,"a":4.5,"b":3.0,"c":4.0,"d":3.5,"e":4.0},
{"x":0.779,"a":3.0,"b":2.0,"c":3.0,"d":2.0,"e":3.0},
{"x":0.780,"a":2.0,"b":1.5,"c":2.0,"d":1.0,"e":2.0},
{"x":0.781,"a":1.0,"b":1.0,"c":1.0,"d":0.5,"e":1.0},
{"x":0.802,"a":8.1,"b":6.0,"c":7.5,"d":20.9,"e":6.0},
{"x":0.803,"a":7.5,"b":5.0,"c":6.5,"d":-4.2,"e":6.5},
{"x":0.804,"a":5.5,"b":4.0,"c":5.0,"d":5.0,"e":4.0},
{"x":0.805,"a":4.0,"b":3.0,"c":4.0,"d":3.0,"e":3.0},
{"x":0.806,"a":3.0,"b":2.0,"c":3.0,"d":2.0,"e":2.0},
{"x":0.808,"a":2.0,"b":1.5,"c":2.0,"d":1.0,"e":1.0},
{"x":0.813,"a":1.0,"b":0.8,"c":1.0,"d":0.2,"e":17.7},
{"x":0.829,"a":7.4,"b":5.5,"c":7.0,"d":20.9,"e":7.0},
{"x":0.830,"a":6.5,"b":4.5,"c":6.0,"d":-3.1,"e":6.0},
{"x":0.831,"a":5.0,"b":3.5,"c":4.5,"d":4.0,"e":4.5},
{"x":0.832,"a":3.5,"b":2.5,"c":3.5,"d":2.5,"e":3.5},
{"x":0.833,"a":2.5,"b":1.5,"c":2.5,"d":1.5,"e":2.5},
{"x":0.834,"a":1.5,"b":1.0,"c":1.5,"d":0.5,"e":1.5},
{"x":0.855,"a":7.4,"b":5.0,"c":7.0,"d":20.8,"e":7.0},
{"x":0.856,"a":7.1,"b":4.0,"c":6.5,"d":-1.7,"e":6.5},
{"x":0.857,"a":5.0,"b":3.0,"c":4.5,"d":4.0,"e":4.5},
{"x":0.858,"a":3.5,"b":2.5,"c":3.5,"d":2.5,"e":3.0},
{"x":0.859,"a":2.5,"b":1.5,"c":2.5,"d":1.5,"e":2.0},
{"x":0.860,"a":1.5,"b":1.0,"c":1.5,"d":0.5,"e":1.5},
{"x":0.879,"a":5.7,"b":4.0,"c":5.5,"d":3.0,"e":5.5},
{"x":0.881,"a":4.5,"b":3.0,"c":4.0,"d":2.0,"e":4.0},
{"x":0.883,"a":3.0,"b":2.0,"c":3.0,"d":1.0,"e":3.0},
{"x":0.885,"a":2.0,"b":1.5,"c":2.0,"d":0.0,"e":2.0},
{"x":0.886,"a":1.5,"b":1.0,"c":1.5,"d":-1.0,"e":1.5},
{"x":0.905,"a":5.0,"b":3.5,"c":4.8,"d":2.5,"e":4.5},
{"x":0.906,"a":3.5,"b":2.5,"c":3.3,"d":1.0,"e":3.0},
{"x":0.907,"a":2.0,"b":1.0,"c":1.8,"d":-0.5,"e":1.5},
{"x":0.915,"a":4.6,"b":3.0,"c":4.4,"d":2.0,"e":4.0},
{"x":0.916,"a":3.0,"b":2.0,"c":2.8,"d":0.5,"e":2.7},
{"x":0.917,"a":1.5,"b":0.5,"c":1.4,"d":-1.0,"e":1.3},
{"x":0.927,"a":4.0,"b":2.8,"c":3.8,"d":1.8,"e":7.1},
{"x":0.928,"a":2.6,"b":1.8,"c":2.5,"d":0.3,"e":2.5},
{"x":0.929,"a":1.5,"b":0.6,"c":1.4,"d":-0.5,"e":1.2},
{"x":0.940,"a":4.4,"b":3.0,"c":4.2,"d":2.0,"e":29.9},
{"x":0.941,"a":3.0,"b":2.0,"c":2.8,"d":0.5,"e":3.0},
{"x":0.942,"a":1.6,"b":0.8,"c":1.5,"d":-0.8,"e":1.5},
{"x":0.955,"a":3.5,"b":2.5,"c":3.3,"d":1.5,"e":3.2},
{"x":0.956,"a":2.2,"b":1.5,"c":2.1,"d":0.2,"e":2.0},
{"x":0.957,"a":1.2,"b":0.5,"c":1.1,"d":-0.6,"e":1.0},
{"x":0.965,"a":4.2,"b":2.8,"c":4.0,"d":2.0,"e":3.8},
{"x":0.966,"a":2.8,"b":1.8,"c":2.6,"d":0.5,"e":2.5},
{"x":0.967,"a":1.5,"b":0.8,"c":1.4,"d":-0.7,"e":1.3},
{"x":0.990,"a":3.8,"b":2.5,"c":3.6,"d":1.8,"e":3.4},
{"x":0.991,"a":2.6,"b":1.6,"c":2.4,"d":0.4,"e":2.3},
{"x":0.992,"a":1.2,"b":0.6,"c":1.2,"d":-0.6,"e":1.1},
{"x":1.000,"a":3.2,"b":2.2,"c":3.0,"d":1.5,"e":2.9},
{"x":1.001,"a":2.0,"b":1.3,"c":1.9,"d":0.3,"e":1.8},
{"x":1.002,"a":1.0,"b":0.5,"c":1.0,"d":-0.5,"e":0.9},
{"x":1.015,"a":3.5,"b":2.3,"c":3.3,"d":-0.7,"e":3.1},
{"x":1.016,"a":2.2,"b":1.4,"c":2.0,"d":0.5,"e":2.0},
{"x":1.017,"a":1.0,"b":0.5,"c":1.0,"d":-0.3,"e":0.9},
{"x":1.030,"a":3.0,"b":2.0,"c":2.8,"d":1.2,"e":2.7},
{"x":1.031,"a":1.8,"b":1.2,"c":1.7,"d":0.2,"e":1.6},
{"x":1.032,"a":0.8,"b":0.4,"c":0.8,"d":-0.5,"e":0.8},
{"x":1.045,"a":3.4,"b":2.2,"c":3.2,"d":-1.4,"e":3.0},
{"x":1.046,"a":2.2,"b":1.4,"c":2.0,"d":0.5,"e":2.0},
{"x":1.047,"a":1.0,"b":0.5,"c":1.0,"d":-0.3,"e":0.9},
{"x":1.060,"a":3.0,"b":2.0,"c":2.8,"d":1.0,"e":2.7},
{"x":1.061,"a":1.8,"b":1.2,"c":1.7,"d":0.2,"e":1.6},
{"x":1.062,"a":0.9,"b":0.4,"c":0.9,"d":-0.5,"e":0.8},
{"x":1.072,"a":2.8,"b":1.9,"c":2.6,"d":-2.8,"e":2.5},
{"x":1.073,"a":1.6,"b":1.0,"c":1.5,"d":0.2,"e":1.4},
{"x":1.074,"a":0.8,"b":0.4,"c":0.8,"d":-0.6,"e":0.7},
{"x":1.100,"a":3.6,"b":2.4,"c":3.4,"d":1.5,"e":7.1},
{"x":1.101,"a":2.4,"b":1.6,"c":2.2,"d":0.3,"e":2.1},
{"x":1.102,"a":1.2,"b":0.6,"c":1.1,"d":-0.6,"e":1.0},
{"x":1.112,"a":3.2,"b":2.2,"c":3.0,"d":1.2,"e":6.8},
{"x":1.113,"a":2.0,"b":1.4,"c":1.9,"d":0.2,"e":1.8},
{"x":1.125,"a":3.1,"b":2.0,"c":2.9,"d":1.0,"e":2.8},
{"x":1.126,"a":2.0,"b":1.3,"c":1.9,"d":0.2,"e":1.8},
{"x":1.127,"a":1.0,"b":0.5,"c":1.0,"d":-0.5,"e":0.9},
{"x":1.132,"a":2.5,"b":1.7,"c":2.4,"d":0.8,"e":23.7},
{"x":1.140,"a":2.8,"b":1.9,"c":2.6,"d":0.8,"e":2.5},
{"x":1.141,"a":1.8,"b":1.2,"c":1.7,"d":0.1,"e":1.6},
{"x":1.142,"a":0.9,"b":0.4,"c":0.9,"d":-0.5,"e":0.8},
{"x":1.155,"a":2.6,"b":1.8,"c":2.5,"d":0.8,"e":2.4},
{"x":1.156,"a":1.6,"b":1.1,"c":1.5,"d":0.1,"e":1.4},
{"x":1.157,"a":0.8,"b":0.4,"c":0.8,"d":-0.5,"e":0.8},
{"x":1.178,"a":2.6,"b":1.8,"c":2.4,"d":0.8,"e":2.3},
{"x":1.179,"a":1.6,"b":1.1,"c":1.5,"d":0.1,"e":1.4},
{"x":1.180,"a":0.8,"b":0.4,"c":0.8,"d":-0.5,"e":0.8},
{"x":1.208,"a":2.3,"b":1.8,"c":2.1,"d":1.5,"e":2.0},
{"x":1.209,"a":1.6,"b":1.2,"c":1.5,"d":0.0,"e":1.4},
{"x":1.232,"a":2.0,"b":1.5,"c":1.9,"d":-0.5,"e":1.8},
{"x":1.245,"a":1.8,"b":1.3,"c":1.7,"d":1.0,"e":1.6},
{"x":1.262,"a":2.0,"b":1.5,"c":1.9,"d":-0.3,"e":1.8},
{"x":1.263,"a":1.4,"b":1.0,"c":1.3,"d":0.5,"e":1.2},
{"x":1.287,"a":2.4,"b":1.8,"c":2.2,"d":-0.3,"e":2.1},
{"x":1.315,"a":1.9,"b":1.4,"c":1.8,"d":-1.0,"e":1.7},
{"x":1.340,"a":1.9,"b":1.4,"c":1.8,"d":1.0,"e":1.7},
{"x":1.367,"a":1.8,"b":1.3,"c":1.7,"d":-1.2,"e":1.6},
{"x":1.392,"a":1.9,"b":1.4,"c":1.8,"d":-1.0,"e":1.7},
{"x":1.405,"a":1.6,"b":1.2,"c":1.5,"d":1.0,"e":1.4},
{"x":1.421,"a":1.9,"b":1.4,"c":1.8,"d":-1.2,"e":1.7},
{"x":1.449,"a":1.6,"b":1.2,"c":1.5,"d":1.0,"e":1.4},
{"x":1.476,"a":1.6,"b":1.2,"c":1.5,"d":-1.5,"e":1.4},
{"x":1.503,"a":1.6,"b":1.2,"c":1.5,"d":1.0,"e":1.4},
{"x":1.529,"a":1.6,"b":1.2,"c":1.5,"d":-1.3,"e":1.4},
{"x":1.555,"a":1.6,"b":1.2,"c":1.5,"d":-1.6,"e":1.4}
      ]},
      "transform": [{"fold": ["a", "b", "c", "d", "e"], "as": ["s", "Cr"]}],
      "mark": {"type": "point", "opacity": 1, "strokeWidth": 1},
      "encoding": {
        "x": {"field": "x", "type": "quantitative", "scale": {"domain": [0, 1.6], "nice": false, "zero": false},
          "axis": {"title": "Fn", "titlePadding": 3, "labelPadding": 15, "tickSize": -5,
            "values": [0,0.05,0.1,0.15,0.2,0.25,0.3,0.35,0.4,0.45,0.5,0.55,0.6,0.65,0.7,0.75,0.8,0.85,0.9,0.95,1,1.05,1.1,1.15,1.2,1.25,1.3,1.35,1.4,1.45,1.5,1.55,1.6],
            "labelExpr": "abs(datum.value*5-round(datum.value*5))<1e-6 ? datum.value+'' : ''",
            "tickOpacity": {"condition": {"test": "abs(datum.value*5-round(datum.value*5))<1e-6", "value": 1}, "value": 0},
            "gridColor": {"condition": {"test": "abs(datum.value*5-round(datum.value*5))<1e-6", "value": "#c4c4c4"}, "value": "#dcdcdc"}}},
        "y": {"field": "Cr", "type": "quantitative", "scale": {"domain": [-20, 60], "nice": false, "zero": false},
          "axis": {"title": "Cr · 10³", "titlePadding": 6, "labelPadding": 6, "tickSize": -5,
            "values": [-20,-15,-10,-5,0,5,10,15,20,25,30,35,40,45,50,55,60],
            "labelExpr": "datum.value%20===0 ? datum.value+'' : ''",
            "tickOpacity": {"condition": {"test": "datum.value%20===0", "value": 1}, "value": 0},
            "gridColor": {"condition": {"test": "datum.value%20===0", "value": "#c4c4c4"}, "value": "#dcdcdc"}}},
        "stroke": {"field": "s", "type": "nominal", "scale": {"domain": ["a","b","c","d","e"], "range": ["#0072BD","#D95319","#EDB120","#7E2F8E","#77AC30"]},
          "legend": {"labelExpr": "datum.value=='a'?'Correct Cr From Trial':datum.value=='b'?'Network 19 Par.=0':datum.value=='c'?'Network 19 Par.=mean':datum.value=='d'?'Network 996 Par.=0':'Network 996 Par.=mean'"}},
        "fill": {"field": "s", "type": "nominal", "scale": {"domain": ["a","b","c","d","e"], "range": ["transparent","transparent","transparent","#7E2F8E","#77AC30"]},
          "legend": {"labelExpr": "datum.value=='a'?'Correct Cr From Trial':datum.value=='b'?'Network 19 Par.=0':datum.value=='c'?'Network 19 Par.=mean':datum.value=='d'?'Network 996 Par.=0':'Network 996 Par.=mean'"}},
        "shape": {"field": "s", "type": "nominal", "scale": {"domain": ["a","b","c","d","e"], "range": ["circle","M0,-1L0,1M-1,0L1,0M-0.7,-0.7L0.7,0.7M-0.7,0.7L0.7,-0.7","M0,-1L0,1M-1,0L1,0M-0.7,-0.7L0.7,0.7M-0.7,0.7L0.7,-0.7","circle","circle"]},
          "legend": {"labelExpr": "datum.value=='a'?'Correct Cr From Trial':datum.value=='b'?'Network 19 Par.=0':datum.value=='c'?'Network 19 Par.=mean':datum.value=='d'?'Network 996 Par.=0':'Network 996 Par.=mean'"}},
        "size": {"field": "s", "type": "nominal", "scale": {"type": "ordinal", "domain": ["a","b","c","d","e"], "range": [36, 42, 42, 5, 5]},
          "legend": {"labelExpr": "datum.value=='a'?'Correct Cr From Trial':datum.value=='b'?'Network 19 Par.=0':datum.value=='c'?'Network 19 Par.=mean':datum.value=='d'?'Network 996 Par.=0':'Network 996 Par.=mean'"}},
        "order": {"field": "s"}
      }
    }
  ]
}
